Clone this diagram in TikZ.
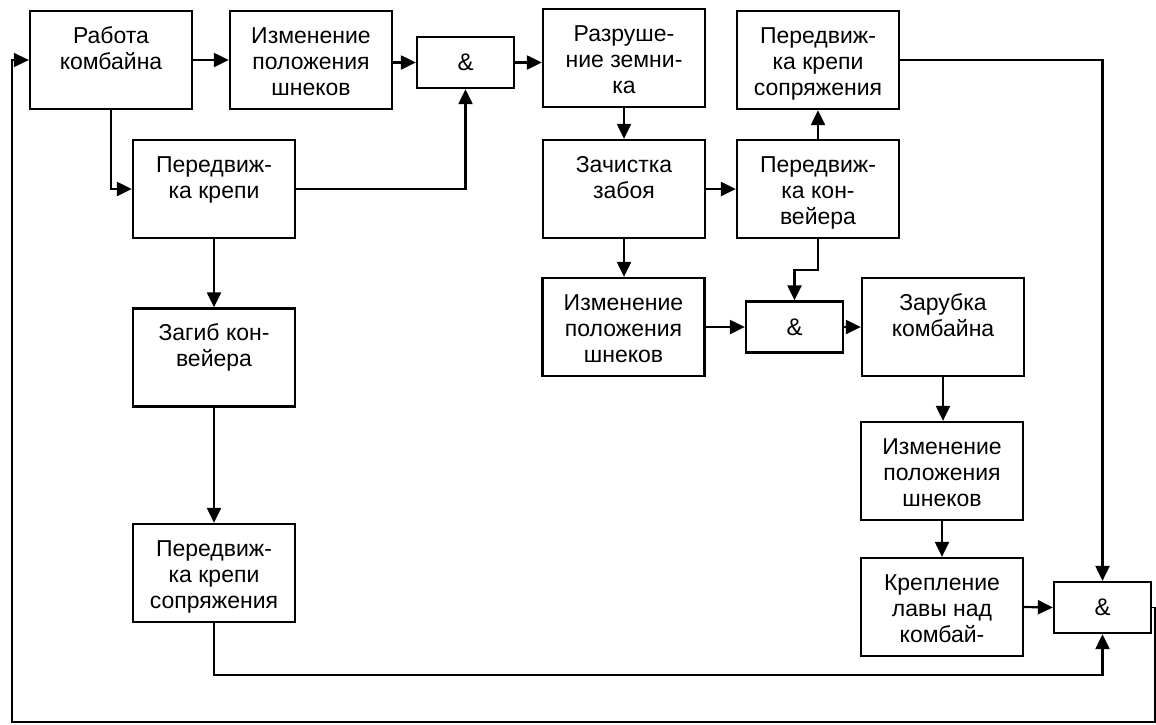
\documentclass[tikz,border=0pt]{standalone}
\usepackage{fontspec}
\setmainfont{Liberation Sans}
\usetikzlibrary{arrows.meta}
\newcommand\bt[1]{\parbox[c][98pt][t]{162pt}{\centering\fontsize{23}{26}\selectfont\rule{0pt}{32pt}#1}}
\tikzset{
  blk/.style={draw, line width=2.3pt, inner sep=0pt, minimum width=162pt, minimum height=98pt},
  andg/.style={draw, line width=2.3pt, inner sep=0pt, minimum width=97pt, minimum height=51pt, font=\fontsize{24}{26}\selectfont},
  arr/.style={line width=2.2pt, -{Triangle[length=15pt,width=14pt]}},
  fb/.style={line width=1.5pt, -{Triangle[length=15pt,width=14pt]}}
}
\begin{document}
\begin{tikzpicture}[x=1pt,y=-1pt]
\useasboundingbox (0,0) rectangle (1156,724);
\node[blk] (A) at (111,60) {\bt{Работа\\комбайна}};
\node[blk] (B) at (311,60) {\bt{Изменение\\положения\\шнеков}};
\node[andg] (C) at (465.5,62.5) {\&};
\node[blk] (D) at (624,58) {\bt{Разруше-\\ние земни-\\ка}};
\node[blk] (E) at (818,60) {\bt{Передвиж-\\ка крепи\\сопряжения}};
\node[blk] (F) at (214,189) {\bt{Передвиж-\\ка крепи}};
\node[blk] (G) at (624,189) {\bt{Зачистка\\забоя}};
\node[blk] (H) at (818,189) {\bt{Передвиж-\\ка кон-\\вейера}};
\node[blk] (I) at (214,357.5) {\bt{Загиб кон-\\вейера}};
\node[blk] (J) at (623.5,327) {\bt{Изменение\\положения\\шнеков}};
\node[andg] (K) at (794.5,327) {\&};
\node[blk] (L) at (943,327) {\bt{Зарубка\\комбайна}};
\node[blk] (M) at (942,471) {\bt{Изменение\\положения\\шнеков}};
\node[blk] (N) at (942,607) {\bt{Крепление\\лавы над\\комбай-}};
\node[andg] (O) at (1102.5,607.5) {\&};
\node[blk] (P) at (214,573) {\bt{Передвиж-\\ка крепи\\сопряжения}};
\coordinate (r1) at (1155,607.5);
\coordinate (r2) at (1155,722);
\coordinate (r3) at (12,722);
\draw[arr] (A.east) -- (B.west);
\draw[arr] (B.east |- C.west) -- (C.west);
\draw[arr] (C.east) -- (D.west |- C.east);
\draw[arr] (A.south) |- (F.west);
\draw[arr] (F.east) -| (C.south);
\draw[arr] (D.south) -- (G.north);
\draw[arr] (G.east) -- (H.west);
\draw[arr] (H.north) -- (E.south);
\draw[arr] (E.east) -| (O.north);
\draw[arr] (G.south) -- (G.south |- J.north);
\draw[arr] (H.south) -- (H.south |- 0,270) -| (K.north);
\draw[arr] (J.east) -- (K.west);
\draw[arr] (K.east) -- (L.west);
\draw[arr] (L.south) -- (L.south |- M.north);
\draw[arr] (M.south) -- (N.north);
\draw[arr] (N.east) -- (O.west);
\draw[arr] (F.south) -- (I.north);
\draw[arr] (I.south) -- (P.north);
\draw[arr] (P.south) |- (0,675 -| O.south) -- (O.south);
\draw[fb] (O.east) -- (r1) -- (r2) -- (r3) |- (A.west);
\end{tikzpicture}
\end{document}
